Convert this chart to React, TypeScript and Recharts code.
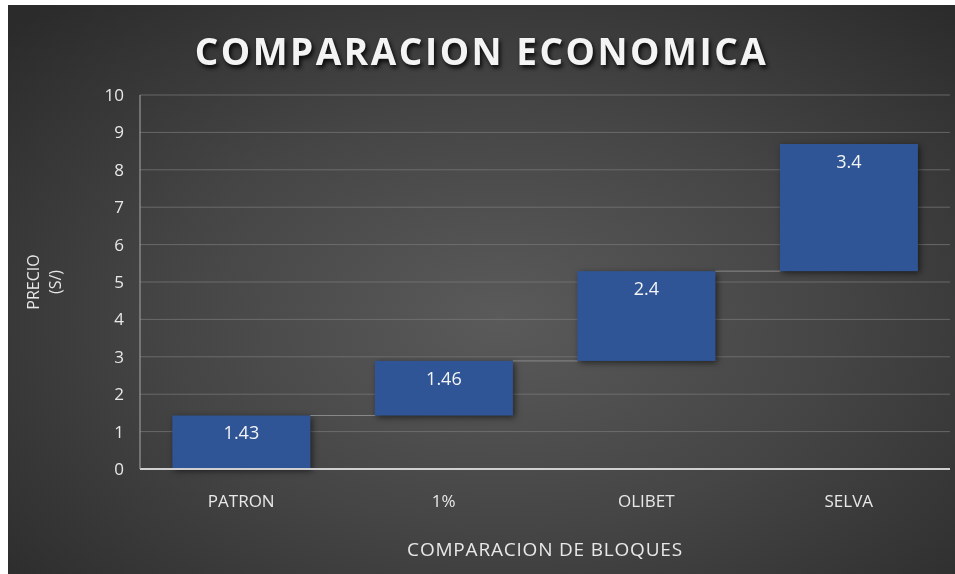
import React from 'react';
import { BarChart, Bar, XAxis, YAxis, CartesianGrid, LabelList } from 'recharts';

const categories = ['PATRON', '1%', 'OLIBET', 'SELVA'];
const values = [1.43, 1.46, 2.4, 3.4];
const yTicks = [0, 1, 2, 3, 4, 5, 6, 7, 8, 9, 10];

// waterfall: each step starts where the previous one ended
let running = 0;
const data = categories.map((name, i) => {
  const base = running;
  running += values[i];
  return { name, base, value: values[i] };
});

const FONT = '"Open Sans", "DejaVu Sans", sans-serif';
const BAR_GAP_RATIO = 32 / 68;

const StepBar = (props: any) => {
  const { x, y, width, height, index } = props;
  const gap = width * BAR_GAP_RATIO;
  return (
    <g>
      <rect x={x} y={y} width={width} height={height} fill="#2f5597" style={{ filter: 'drop-shadow(2px 2px 3px rgba(0,0,0,0.55))' }} />
      {index < data.length - 1 && (
        <line x1={x + width} x2={x + width + gap} y1={y} y2={y} stroke="#8a8a8a" strokeWidth={1} />
      )}
    </g>
  );
};

const YTitle = (props: any) => {
  const { viewBox } = props;
  const cy = viewBox.y + viewBox.height / 2;
  const cx = 37;
  return (
    <text transform={`rotate(-90 ${cx} ${cy})`} x={cx} y={cy} textAnchor="middle" fill="#e8e8e8" fontSize={16} fontFamily={FONT}>
      <tspan x={cx} dy={-6}>PRECIO</tspan>
      <tspan x={cx} dy={22}>(S/)</tspan>
    </text>
  );
};

export default function App() {
  return (
    <div
      style={{
        position: 'fixed',
        left: 8,
        top: 5,
        width: 947,
        height: 569,
        overflow: 'hidden',
        background: 'radial-gradient(ellipse 70% 75% at 52% 55%, #5a5a5a 0%, #454545 50%, #333 85%, #2b2b2b 100%)',
        fontFamily: FONT,
      }}
    >
      <div
        style={{
          position: 'absolute',
          top: 20,
          left: 0,
          width: 947,
          textAlign: 'center',
          color: '#f4f4f4',
          fontSize: 37,
          fontWeight: 700,
          letterSpacing: 2.5,
          textShadow: '2px 3px 4px rgba(0,0,0,0.85)',
        }}
      >
        COMPARACION ECONOMICA
      </div>
      <BarChart
        width={947}
        height={569}
        data={data}
        margin={{ top: 90, right: 5, bottom: 0, left: 0 }}
        barCategoryGap="16%"
      >
        <CartesianGrid vertical={false} stroke="#7a7a7a" strokeOpacity={0.7} />
        <XAxis
          dataKey="name"
          height={105}
          tickLine={false}
          tickSize={0}
          tickMargin={26}
          axisLine={{ stroke: '#d0d0d0', strokeWidth: 2 }}
          tick={{ fill: '#e8e8e8', fontSize: 17, fontFamily: FONT }}
          label={{ value: 'COMPARACION DE BLOQUES', position: 'insideBottom', offset: 18, fill: '#e8e8e8', fontSize: 19, letterSpacing: 0.8, fontFamily: FONT }}
        />
        <YAxis
          width={132}
          domain={[0, 10]}
          ticks={yTicks}
          tickLine={false}
          tickSize={0}
          tickMargin={16}
          axisLine={{ stroke: '#a8a8a8' }}
          tick={{ fill: '#e8e8e8', fontSize: 17, fontFamily: FONT }}
          label={<YTitle />}
        />
        <Bar dataKey="base" stackId="w" fill="transparent" isAnimationActive={false} />
        <Bar dataKey="value" stackId="w" shape={<StepBar />} isAnimationActive={false}>
          <LabelList dataKey="value" position="insideTop" offset={11} fill="#f4f4f4" fontSize={18} fontFamily={FONT} />
        </Bar>
      </BarChart>
    </div>
  );
}
